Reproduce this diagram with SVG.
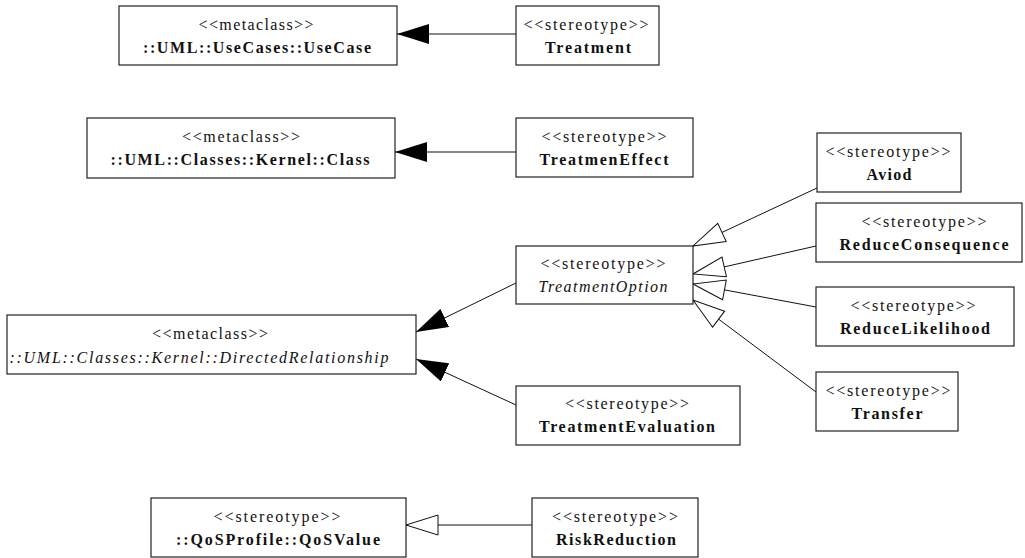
<svg xmlns="http://www.w3.org/2000/svg" width="1025" height="558" viewBox="0 0 1025 558">
<style>
.box{fill:#fff;stroke:#222;stroke-width:1.2}
.t{font-family:"Liberation Serif","Times New Roman",serif;font-size:16px;fill:#111;text-anchor:middle}
.b{font-weight:bold}
.i{font-style:italic}
.c{stroke:#111;stroke-width:1;fill:none}
</style>
<defs>
<marker id="filled" viewBox="0 0 32 20" refX="32" refY="10" markerWidth="32" markerHeight="20" markerUnits="userSpaceOnUse" orient="auto">
<path d="M0,0 L32,10 L0,20 Z" fill="#000"/>
</marker>
<marker id="hollow" viewBox="-1 -1 34 22" refX="32" refY="10" markerWidth="34" markerHeight="22" markerUnits="userSpaceOnUse" orient="auto">
<path d="M0,0 L32,10 L0,20 Z" fill="#fff" stroke="#111" stroke-width="1"/>
</marker>
</defs>
<g id="connectors">
<line class="c" x1="516" y1="34" x2="397" y2="34" marker-end="url(#filled)"/>
<line class="c" x1="516" y1="152" x2="395" y2="152" marker-end="url(#filled)"/>
<line class="c" x1="516" y1="283" x2="416" y2="332" marker-end="url(#filled)"/>
<line class="c" x1="516" y1="405" x2="416" y2="359" marker-end="url(#filled)"/>
<line class="c" x1="817" y1="188" x2="693" y2="246" marker-end="url(#hollow)"/>
<line class="c" x1="816" y1="246" x2="693" y2="274" marker-end="url(#hollow)"/>
<line class="c" x1="816" y1="307" x2="693" y2="284" marker-end="url(#hollow)"/>
<line class="c" x1="816" y1="392" x2="693" y2="300" marker-end="url(#hollow)"/>
<line class="c" x1="532" y1="525" x2="406" y2="525" marker-end="url(#hollow)"/>
</g>
<g id="usecase">
<rect class="box" x="119" y="6" width="278" height="59"/>
<text class="t" x="256" y="30" textLength="115" lengthAdjust="spacing">&lt;&lt;metaclass&gt;&gt;</text>
<text class="t b" x="257" y="53" textLength="228" lengthAdjust="spacing">::UML::UseCases::UseCase</text>
</g>
<g id="treatment">
<rect class="box" x="516" y="6" width="143" height="59"/>
<text class="t" x="586" y="30" textLength="125" lengthAdjust="spacing">&lt;&lt;stereotype&gt;&gt;</text>
<text class="t b" x="588" y="53" textLength="86" lengthAdjust="spacing">Treatment</text>
</g>
<g id="class">
<rect class="box" x="87" y="118" width="308" height="60"/>
<text class="t" x="241" y="142" textLength="118" lengthAdjust="spacing">&lt;&lt;metaclass&gt;&gt;</text>
<text class="t b" x="240" y="165" textLength="259" lengthAdjust="spacing">::UML::Classes::Kernel::Class</text>
</g>
<g id="treatmenEffect">
<rect class="box" x="516" y="118" width="177" height="59"/>
<text class="t" x="604" y="142" textLength="125" lengthAdjust="spacing">&lt;&lt;stereotype&gt;&gt;</text>
<text class="t b" x="604" y="165" textLength="129" lengthAdjust="spacing">TreatmenEffect</text>
</g>
<g id="aviod">
<rect class="box" x="817" y="133" width="144" height="59"/>
<text class="t" x="888" y="157" textLength="125" lengthAdjust="spacing">&lt;&lt;stereotype&gt;&gt;</text>
<text class="t b" x="889" y="180" textLength="45" lengthAdjust="spacing">Aviod</text>
</g>
<g id="reduceConsequence">
<rect class="box" x="816" y="203" width="206" height="59"/>
<text class="t" x="924" y="227" textLength="125" lengthAdjust="spacing">&lt;&lt;stereotype&gt;&gt;</text>
<text class="t b" x="924" y="250" textLength="169" lengthAdjust="spacing">ReduceConsequence</text>
</g>
<g id="reduceLikelihood">
<rect class="box" x="816" y="287" width="198" height="59"/>
<text class="t" x="913" y="311" textLength="125" lengthAdjust="spacing">&lt;&lt;stereotype&gt;&gt;</text>
<text class="t b" x="915" y="334" textLength="150" lengthAdjust="spacing">ReduceLikelihood</text>
</g>
<g id="transfer">
<rect class="box" x="816" y="372" width="142" height="59"/>
<text class="t" x="888" y="396" textLength="125" lengthAdjust="spacing">&lt;&lt;stereotype&gt;&gt;</text>
<text class="t b" x="887" y="419" textLength="71" lengthAdjust="spacing">Transfer</text>
</g>
<g id="treatmentOption">
<rect class="box" x="516" y="246" width="177" height="58"/>
<text class="t" x="603" y="269" textLength="125" lengthAdjust="spacing">&lt;&lt;stereotype&gt;&gt;</text>
<text class="t i" x="603" y="292" textLength="129" lengthAdjust="spacing">TreatmentOption</text>
</g>
<g id="treatmentEvaluation">
<rect class="box" x="516" y="386" width="224" height="59"/>
<text class="t" x="627" y="409" textLength="124" lengthAdjust="spacing">&lt;&lt;stereotype&gt;&gt;</text>
<text class="t b" x="627" y="432" textLength="176" lengthAdjust="spacing">TreatmentEvaluation</text>
</g>
<g id="directedRelationship">
<rect class="box" x="7" y="315" width="409" height="59"/>
<text class="t" x="210" y="339" textLength="116" lengthAdjust="spacing">&lt;&lt;metaclass&gt;&gt;</text>
<text class="t i" x="199" y="363" textLength="379" lengthAdjust="spacing">::UML::Classes::Kernel::DirectedRelationship</text>
</g>
<g id="qosValue">
<rect class="box" x="151" y="498" width="255" height="59"/>
<text class="t" x="277" y="522" textLength="127" lengthAdjust="spacing">&lt;&lt;stereotype&gt;&gt;</text>
<text class="t b" x="278" y="545" textLength="204" lengthAdjust="spacing">::QoSProfile::QoSValue</text>
</g>
<g id="riskReduction">
<rect class="box" x="532" y="498" width="166" height="59"/>
<text class="t" x="615" y="522" textLength="126" lengthAdjust="spacing">&lt;&lt;stereotype&gt;&gt;</text>
<text class="t b" x="616" y="545" textLength="120" lengthAdjust="spacing">RiskReduction</text>
</g>
</svg>
